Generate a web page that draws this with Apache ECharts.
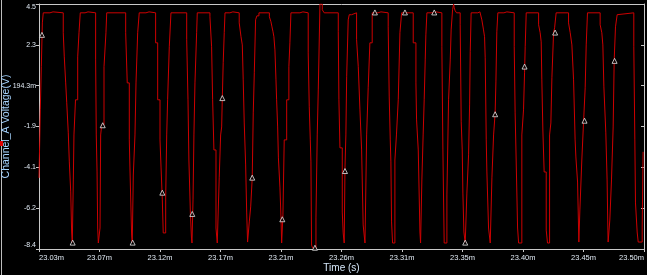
<!DOCTYPE html>
<html><head><meta charset="utf-8">
<script src="https://cdn.jsdelivr.net/npm/echarts@6/dist/echarts.min.js"></script>
<style>html,body{margin:0;padding:0;background:#000;}#c{width:647px;height:275px;}</style>
</head><body><div id="c"></div>
<script>
// Time axis ticks (ms) and their labels
var xTickLabels = ['23.03m','23.07m','23.12m','23.17m','23.21m','23.26m','23.31m','23.35m','23.40m','23.45m','23.50m'];
var yTickLabels = ['-8.4','-6.2','-4.1','-1.9','194.3m','2.3','4.5'];
var xMin = 23.0263, xMax = 23.4953, xStep = 0.0469;
var yMin = -8.4057, yMax = 4.4943, yStep = 2.15;

// Channel A samples (time in ms, voltage in V), sample-and-hold
var time_ms = [
23.0263,23.0273,23.0281,23.0289,23.0296,23.0348,23.0372,23.0451,23.0459,23.0470,23.0478,23.0490,23.0498,23.0509,23.0516,23.0521,
23.0529,23.0534,23.0546,23.0563,23.0573,23.0583,23.0620,23.0643,
23.0702,23.0707,23.0713,23.0718,23.0723,23.0736,23.0741,23.0749,23.0767,23.0782,23.0788,
23.0935,23.0947,23.0963,23.0968,23.0981,23.0986,23.0994,23.1007,23.1015,23.1028,23.1040,23.1092,23.1116,
23.1167,23.1183,23.1201,23.1209,23.1219,23.1226,23.1245,23.1253,23.1260,23.1273,23.1286,
23.1408,23.1418,23.1425,23.1437,23.1445,23.1449,23.1457,23.1464,23.1472,23.1485,23.1490,
23.1588,23.1601,23.1609,23.1619,23.1635,23.1645,23.1660,23.1671,23.1679,23.1684,23.1691,23.1699,23.1705,23.1743,23.1766,
23.1815,23.1829,23.1839,23.1846,23.1854,23.1865,23.1873,23.1880,23.1893,23.1904,23.1916,23.1924,23.1932,23.1942,23.1952,23.1968,
23.2049,23.2061,23.2069,23.2077,23.2084,23.2092,23.2100,23.2105,23.2113,23.2119,23.2131,23.2139,23.2144,23.2154,23.2164,23.2183,23.2200,23.2208,23.2216,23.2286,23.2309,
23.2350,23.2358,23.2366,23.2371,23.2376,23.2384,23.2410,23.2420,23.2428,23.2441,23.2459,23.2474,
23.2583,23.2588,23.2596,23.2614,23.2621,23.2629,23.2635,23.2642,23.2648,23.2660,23.2668,23.2686,
23.2725,23.2738,23.2751,23.2764,23.2776,23.2790,23.2803,23.2815,23.2828,23.2846,23.2890,23.2914,
23.2970,23.2978,23.2986,23.2991,23.2996,23.3004,23.3022,23.3034,23.3048,23.3061,23.3074,
23.3164,23.3185,23.3190,23.3203,23.3216,23.3221,23.3231,23.3241,23.3249,23.3257,23.3262,23.3270,23.3309,23.3340,
23.3386,23.3394,23.3404,23.3425,23.3438,23.3451,23.3458,23.3469,23.3477,23.3482,23.3489,23.3500,
23.3528,23.3536,23.3544,23.3549,23.3557,23.3567,23.3580,23.3593,23.3601,23.3606,23.3613,23.3665,23.3681,
23.3696,23.3709,23.3717,23.3722,23.3730,23.3735,23.3748,23.3761,23.3774,23.3787,23.3799,23.3805,23.3812,23.3820,23.3867,23.3890,
23.3947,23.3954,23.3962,23.3973,23.3981,23.4006,23.4019,23.4027,23.4032,23.4040,
23.4136,23.4148,23.4156,23.4161,23.4169,23.4179,23.4195,23.4205,23.4221,23.4231,23.4239,23.4252,23.4260,23.4272,
23.4368,23.4381,23.4394,23.4407,23.4419,23.4425,23.4438,23.4448,23.4456,23.4471,23.4484,23.4497,23.4505,23.4515,
23.4613,23.4626,23.4634,23.4642,23.4657,23.4667,23.4673,23.4675,23.4688,23.4701,23.4714,23.4722,23.4732,23.4745,23.4753,
23.4874,23.4882,23.4887,23.4900,23.4908,23.4939,23.4946
];
var voltage = [
-4.66,-1.08,1.19,3.50,4.03,4.08,4.03,2.98,1.71,0.34,-0.71,-2.29,-3.82,-5.40,-7.51,-8.09,
-4.77,-2.40,-0.55,1.71,2.98,4.03,4.08,4.03,
1.55,-2.40,-4.35,-7.30,-8.09,-7.30,-2.40,-1.87,1.19,2.98,4.03,
2.98,0.34,-2.66,-4.14,-7.67,-8.09,-4.51,-2.40,0.34,2.98,4.03,4.08,4.03,
2.45,-0.55,-2.66,-4.09,-5.82,-7.56,-5.72,-2.40,-0.55,2.24,4.03,
2.61,-0.55,-3.72,-6.61,-7.83,-8.09,-5.82,-2.40,0.34,2.98,4.03,
3.82,2.24,-0.55,-3.19,-7.30,-8.09,-4.66,-2.40,-1.98,-0.45,1.40,2.98,4.03,4.08,4.03,
3.50,2.77,2.34,0.50,-1.77,-3.98,-6.46,-8.04,-6.98,-6.19,-4.66,-1.24,0.87,3.66,3.87,4.03,
3.82,3.56,3.29,3.03,2.77,2.08,0.50,-0.55,-1.98,-3.61,-5.19,-6.77,-8.09,-6.61,-2.66,-0.55,1.19,2.45,4.03,4.08,4.03,
1.92,-0.92,-2.66,-3.82,-8.20,-8.35,-6.77,-2.40,-0.03,4.49,4.19,4.03,
3.03,-0.55,-3.08,-6.46,-7.56,-8.09,-4.14,-2.40,0.66,3.66,3.93,4.03,
2.61,1.19,-1.08,-3.19,-7.14,-8.09,-2.40,0.08,2.45,4.03,4.08,4.03,
3.29,-0.40,-2.66,-3.82,-6.98,-8.09,-3.72,-2.40,-0.55,2.98,4.03,
2.45,0.34,-1.61,-3.19,-7.51,-8.09,-4.77,-2.40,-0.55,1.55,2.87,4.03,4.08,4.03,
2.24,-3.19,-8.09,-5.56,-0.55,1.55,3.13,4.19,4.49,4.29,4.14,4.03,
3.40,-1.71,-3.19,-5.46,-7.51,-8.09,-5.46,-3.45,-0.82,1.98,4.03,4.08,4.03,
3.66,3.13,2.77,1.66,-2.66,-4.35,-7.30,-8.09,-4.66,-2.40,-1.24,0.39,3.03,4.03,4.08,4.03,
2.24,-1.24,-3.72,-7.30,-8.09,-2.40,-1.08,0.87,2.24,4.03,
3.40,2.98,2.50,0.50,-2.14,-4.35,-7.41,-8.09,-2.40,-1.77,0.61,2.98,3.24,4.03,
3.50,2.98,2.34,0.50,-2.66,-3.56,-4.88,-8.04,-6.35,-3.72,-1.77,0.08,2.34,4.03,
3.40,2.98,2.34,0.13,-2.29,-4.77,-7.41,-8.04,-6.88,-4.77,-1.98,1.55,3.29,3.93,4.03,
2.24,-2.66,-5.98,-7.51,-8.04,-7.25,-3.29
];
// Triangle markers on the trace
var marker_ms = [23.0286,23.0524,23.0757,23.0989,23.1219,23.1451,23.1684,23.1916,23.2149,23.2402,23.2635,23.2867,23.3100,23.3327,23.3567,23.3799,23.4027,23.4264,23.4492,23.4725];
var marker_v = [2.87,-8.07,-1.89,-8.07,-5.44,-6.56,-0.46,-4.65,-6.84,-8.34,-4.30,4.05,4.05,4.05,-8.07,-1.31,1.20,2.99,-1.65,1.50];

var lineData = time_ms.map(function(t,i){return [t, voltage[i]];});
var markData = marker_ms.map(function(t,i){return [t, marker_v[i]];});

var axisCol = '#c8c8c8';
var labelCol = '#dfe8f2';
var font = "'Liberation Sans'";
var chart = echarts.init(document.getElementById('c'), null, {renderer:'canvas'});
chart.setOption({
  backgroundColor:'#000000',
  animation:false,
  grid:{left:39,right:3,top:4,bottom:26,containLabel:false,outerBoundsMode:'none'},
  xAxis:[{
    type:'value', min:xMin, max:xMax, interval:xStep,
    name:'Time (s)', nameLocation:'middle', nameGap:14, nameMoveOverlap:false,
    nameTextStyle:{color:'#d6e8fa', fontSize:10, fontFamily:font},
    axisLine:{show:true, onZero:false, lineStyle:{color:axisCol, width:1}},
    axisTick:{show:true, length:3, lineStyle:{color:axisCol}},
    splitLine:{show:false},
    axisLabel:{color:labelCol, fontSize:7.5, fontFamily:font, margin:5,
      alignMinLabel:'left', alignMaxLabel:'right',
      formatter:function(v,i){return xTickLabels[i]!==undefined?xTickLabels[i]:'';}}
  },{
    type:'value', min:xMin, max:xMax, position:'top',
    axisLine:{show:true, onZero:false, lineStyle:{color:axisCol}}, axisTick:{show:false},
    axisLabel:{show:false}, splitLine:{show:false}
  }],
  yAxis:[{
    type:'value', min:yMin, max:yMax, interval:yStep,
    name:'Channel_A Voltage(V)', nameLocation:'middle', nameGap:27, nameRotate:90, nameMoveOverlap:false,
    nameTextStyle:{color:'#a6d4ff', fontSize:10.5, fontFamily:font},
    axisLine:{show:true, onZero:false, lineStyle:{color:axisCol, width:1}},
    axisTick:{show:true, length:3, lineStyle:{color:axisCol}},
    splitLine:{show:false},
    axisLabel:{color:labelCol, fontSize:7, fontFamily:font, margin:3,
      verticalAlignMinLabel:'bottom', verticalAlignMaxLabel:'top',
      formatter:function(v,i){return yTickLabels[i]!==undefined?yTickLabels[i]:'';}}
  },{
    type:'value', min:yMin, max:yMax, interval:yStep, position:'right',
    axisLine:{show:true, onZero:false, lineStyle:{color:axisCol}},
    axisTick:{show:true, inside:true, length:3, lineStyle:{color:axisCol}},
    axisLabel:{show:false}, splitLine:{show:false}
  }],
  series:[{
    type:'line', step:'end', data:lineData, showSymbol:false, symbol:'none',
    lineStyle:{color:'#cc0000', width:1}, silent:true, z:2
  },{
    type:'scatter', data:markData, symbol:'triangle', symbolSize:[5,5],
    itemStyle:{color:'#000000', borderColor:'#e6e6e6', borderWidth:1}, z:3, silent:true
  }],
  graphic:[
    {type:'line', shape:{x1:1.5,y1:0,x2:1.5,y2:275}, style:{stroke:'#bdbdbd', lineWidth:1}, silent:true},
    {type:'rect', shape:{x:0,y:141,width:3,height:5}, style:{fill:'#e00000'}, silent:true}
  ]
});
</script></body></html>
